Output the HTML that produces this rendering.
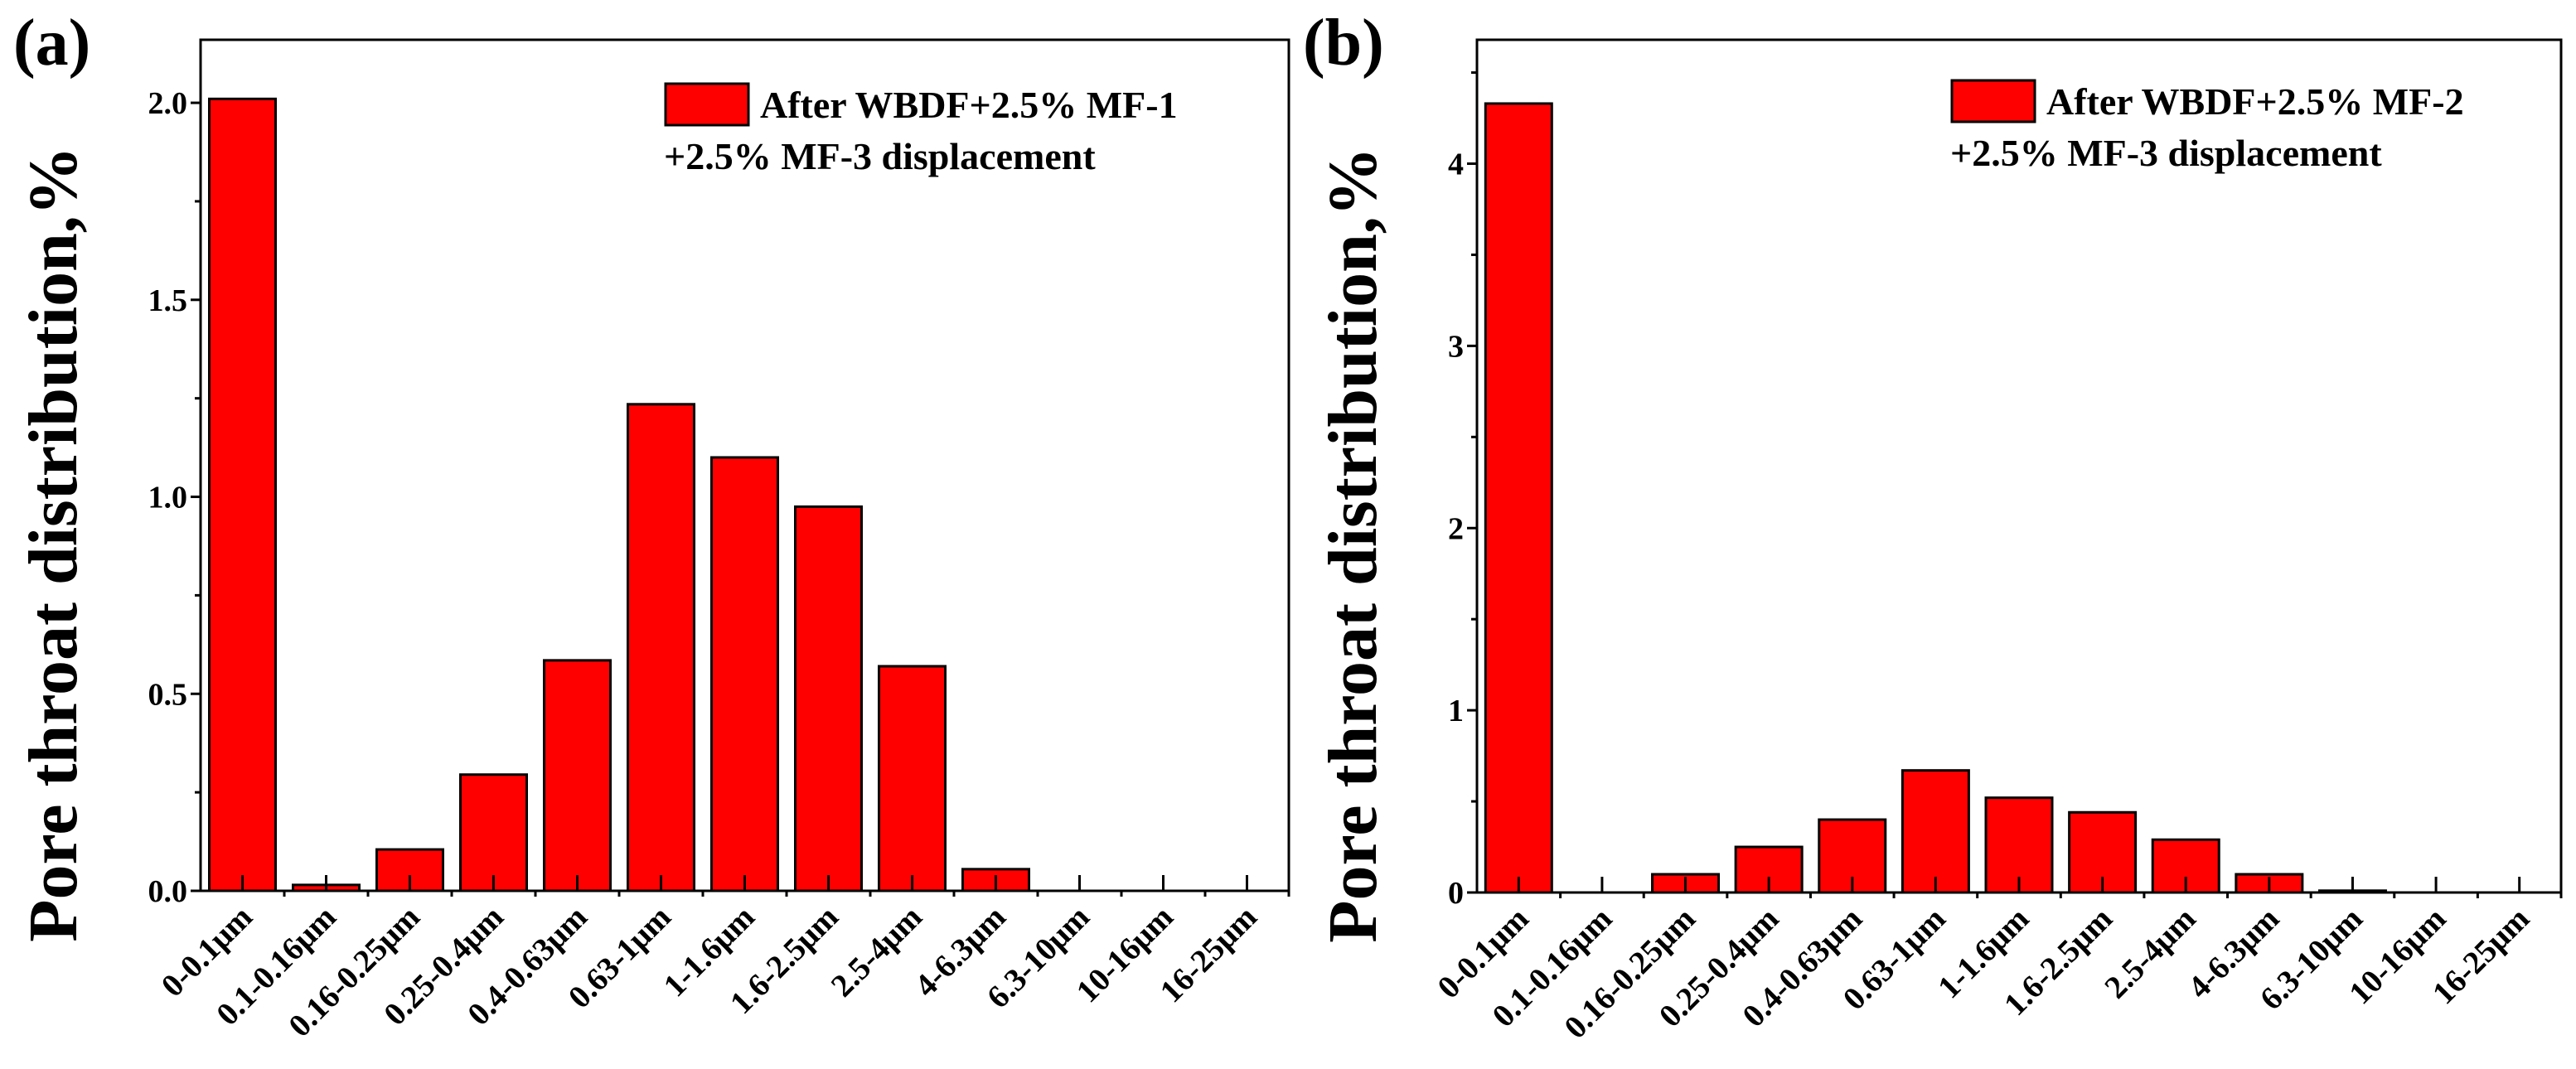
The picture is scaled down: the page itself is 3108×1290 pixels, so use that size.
<!DOCTYPE html>
<html><head><meta charset="utf-8"><style>
html,body{margin:0;padding:0;background:#fff;width:3108px;height:1290px;overflow:hidden}
svg{display:block;font-family:"Liberation Serif",serif;font-weight:bold}
</style></head><body>
<svg id="fig" width="3108" height="1290" viewBox="0 0 3108 1290" xmlns="http://www.w3.org/2000/svg"></svg>
<script>
const categories = ["0-0.1μm","0.1-0.16μm","0.16-0.25μm","0.25-0.4μm","0.4-0.63μm","0.63-1μm","1-1.6μm","1.6-2.5μm","2.5-4μm","4-6.3μm","6.3-10μm","10-16μm","16-25μm"];
const valuesA = [2.01,0.015,0.105,0.295,0.585,1.235,1.10,0.975,0.57,0.055,0,0,0];
const valuesB = [4.33,0,0.1,0.25,0.40,0.67,0.52,0.44,0.29,0.1,0.01,0,0];
const ticksA = [0,0.5,1.0,1.5,2.0];
const tickLabelsA = ["0.0","0.5","1.0","1.5","2.0"];
const ticksB = [0,1,2,3,4];
const tickLabelsB = ["0","1","2","3","4"];
const legendA = ["After WBDF+2.5% MF-1","+2.5% MF-3 displacement"];
const legendB = ["After WBDF+2.5% MF-2","+2.5% MF-3 displacement"];

const NS="http://www.w3.org/2000/svg";
const svg=document.getElementById('fig');
function mk(tag,attrs,parent){const e=document.createElementNS(NS,tag);for(const k in attrs)e.setAttribute(k,attrs[k]);(parent||svg).appendChild(e);return e;}

function panel(o){
  const g=mk('g',{});
  
  
  const L=o.left,R=o.right,T=o.top,B=o.bottom;
  const y=v=>B-(v/o.ymax)*(B-T);
  const bw=(R-L)/o.cats.length;
  const xc=i=>L+bw*(i+0.5);
  o.vals.forEach((v,i)=>{
    const h=B-y(v);
    const r=mk('rect',{x:xc(i)-40,y:y(v),width:80,height:Math.max(h,0),fill:'#ff0000',stroke:'#000','stroke-width':3},g);
    
    
  });
  const f=mk('rect',{x:L,y:T,width:R-L,height:B-T,fill:'none',stroke:'#000','stroke-width':3},g);
  
  
  o.ticks.forEach((t,i)=>{
    mk('line',{x1:L-12,x2:L,y1:y(t),y2:y(t),stroke:'#000','stroke-width':3},g);
    const tx=mk('text',{x:L-16,y:y(t)+13,'text-anchor':'end','font-size':38},g);
    tx.textContent=o.tickLabels[i];
    
    
  });
  for(let k=0;k<o.ticks.length;k++){
    const m=o.ticks[k]+o.minor;
    if(m<o.ymax) mk('line',{x1:L-7,x2:L,y1:y(m),y2:y(m),stroke:'#000','stroke-width':3},g);
  }
  o.cats.forEach((c,i)=>{
    mk('line',{x1:xc(i),x2:xc(i),y1:B,y2:B-19,stroke:'#000','stroke-width':3},g);
    mk('line',{x1:L+bw*(i+1),x2:L+bw*(i+1),y1:B,y2:B+7,stroke:'#000','stroke-width':3},g);
    const tx=mk('text',{x:0,y:0,'text-anchor':'end','font-size':39,transform:`translate(${xc(i)+14},${B+34}) rotate(-45)`},g);
    tx.textContent=c;
    
    
  });
  const yt=mk('text',{x:0,y:0,'text-anchor':'middle','font-size':84,transform:`translate(${o.titleX},${(T+B)/2+95}) rotate(-90)`},g);
  yt.textContent='Pore throat distribution,%';
  
  
  const pl=mk('text',{x:o.labelX,y:78,'font-size':80},g);
  pl.textContent=o.label;
  
  
  const lg=mk('g',{},g);
  
  
  mk('rect',{x:o.legX,y:o.legY,width:100,height:50,fill:'#ff0000',stroke:'#000','stroke-width':3},lg);
  const l1=mk('text',{x:o.legX+114,y:o.legY+41,'font-size':46},lg);
  l1.textContent=o.legend[0];
  const l2=mk('text',{x:o.legX-2,y:o.legY+103,'font-size':46},lg);
  l2.textContent=o.legend[1];
}
panel({name:'panel-a',left:242,right:1555,top:48,bottom:1075,ymax:2.16,cats:categories,vals:valuesA,ticks:ticksA,tickLabels:tickLabelsA,minor:0.25,legend:legendA,titleX:92,labelX:16,label:'(a)',legX:803,legY:101});
panel({name:'panel-b',left:1782,right:3090,top:48,bottom:1077,ymax:4.68,cats:categories,vals:valuesB,ticks:ticksB,tickLabels:tickLabelsB,minor:0.5,legend:legendB,titleX:1660,labelX:1572,label:'(b)',legX:2355,legY:97});
</script>
</body></html>
